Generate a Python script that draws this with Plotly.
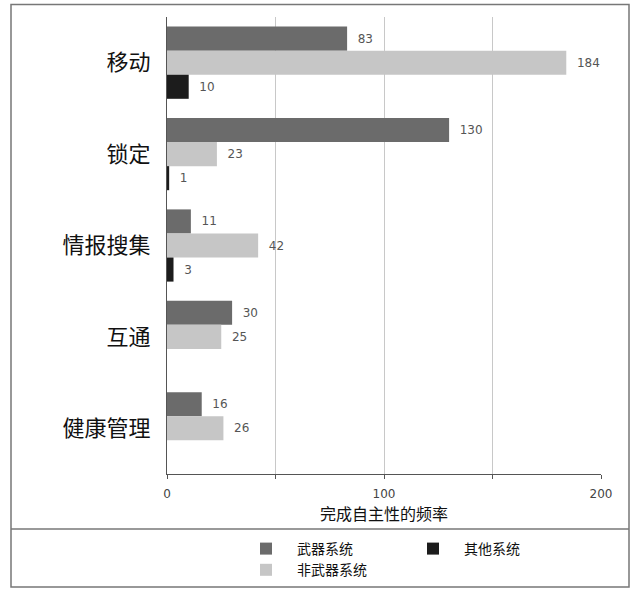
import plotly.graph_objects as go

categories = ["移动", "锁定", "情报搜集", "互通", "健康管理"]
weapon = [83, 130, 11, 30, 16]
nonweapon = [184, 23, 42, 25, 26]
other = [10, 1, 3, None, None]
series_names = ["武器系统", "非武器系统", "其他系统"]
x_tickvals = [0, 50, 100, 150, 200]
x_ticktext = ["0", "", "100", "", "200"]
x_title = "完成自主性的频率"

colors = ["#6b6b6b", "#c6c6c6", "#1c1c1c"]
ranks = [1, 3, 2]
label_font = dict(family="DejaVu Sans", size=12, color="#555555")

fig = go.Figure()
for name, vals, col, rk in zip(series_names, [weapon, nonweapon, other], colors, ranks):
    fig.add_trace(go.Bar(
        y=categories, x=vals, name=name, orientation="h",
        marker=dict(color=col, line=dict(width=0)),
        text=vals, texttemplate="  %{x}", textposition="outside",
        textfont=label_font, cliponaxis=False, legendrank=rk,
    ))

L, R, T, B = 167, 39, 17, 118
W, H = 640, 592
pw, ph = W - L - R, H - T - B

def px(x):
    return (x - L) / pw

def py(y):
    return 1 - (y - T) / ph

fig.update_layout(
    width=W, height=H,
    margin=dict(l=L, r=R, t=T, b=B, autoexpand=False),
    paper_bgcolor="white", plot_bgcolor="white",
    barmode="group", bargap=0.21, bargroupgap=0,
    font=dict(family="Noto Sans CJK SC", color="#111111"),
    showlegend=True,
    legend=dict(
        orientation="h", x=px(235), xanchor="left", y=py(533), yanchor="top",
        entrywidth=100, entrywidthmode="pixels", traceorder="normal",
        itemwidth=52,
        font=dict(family="Noto Sans CJK SC", size=14, color="#111111"),
        bgcolor="rgba(0,0,0,0)", itemclick=False,
    ),
    xaxis=dict(
        range=[0, 200], tickvals=x_tickvals, ticktext=x_ticktext,
        showgrid=True, gridcolor="#c8c8c8", gridwidth=1,
        showline=True, linecolor="#555555", linewidth=1,
        ticks="outside", ticklen=4, tickcolor="#555555", ticklabelstandoff=5,
        tickfont=dict(family="DejaVu Sans", size=12, color="#444444"),
        title=dict(text=x_title, standoff=4,
                   font=dict(family="Noto Sans CJK SC", size=16, color="#111111")),
        zeroline=False, fixedrange=True, automargin=False,
    ),
    yaxis=dict(
        autorange="reversed", showline=True, linecolor="#555555", linewidth=1,
        ticks="", showgrid=False, ticklabelstandoff=11,
        tickfont=dict(family="Noto Sans CJK SC", size=22, color="#111111"),
        fixedrange=True, automargin=False,
    ),
    shapes=[
        dict(type="rect", xref="paper", yref="paper",
             x0=px(11), x1=px(629), y0=py(587), y1=py(4.5),
             line=dict(color="#777777", width=1.5), fillcolor="rgba(0,0,0,0)", layer="below"),
        dict(type="line", xref="paper", yref="paper",
             x0=px(11), x1=px(629), y0=py(529), y1=py(529),
             line=dict(color="#777777", width=1.5)),
    ],
)

fig.write_html("out.html", config={"displayModeBar": False},
               post_script="document.body.style.margin='0';")
